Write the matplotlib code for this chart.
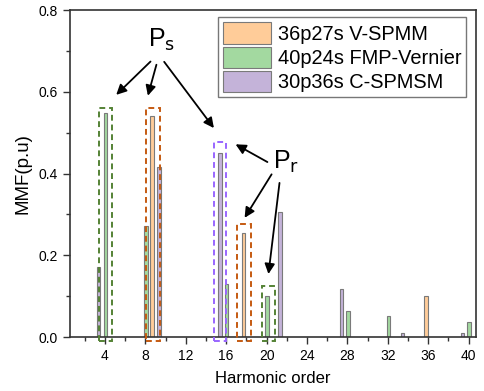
import numpy as np
import matplotlib
matplotlib.use("Agg")
import matplotlib.pyplot as plt
from matplotlib.patches import Rectangle

plt.rcParams['font.family'] = ['Liberation Sans', 'DejaVu Sans']

# harmonic spectra
vspmm_order = [8.67, 17.7, 35.75]
vspmm_mmf = [0.541, 0.255, 0.100]

fmp_order = [4.05, 8.05, 16.05, 20.05, 28.05, 32.05, 40.05]
fmp_mmf = [0.549, 0.272, 0.129, 0.100, 0.064, 0.052, 0.036]

cspm_order = [3.35, 9.35, 15.4, 21.35, 27.4, 33.45, 39.4]
cspm_mmf = [0.171, 0.417, 0.451, 0.306, 0.117, 0.011, 0.009]

labels = ['36p27s V-SPMM', '40p24s FMP-Vernier', '30p36s C-SPMSM']
colors = ['#ffcc99', '#a3d9a0', '#c4b3d9']

# dashed highlight boxes: (x0, x1, top, colour)
boxes = [(3.40, 4.72, 0.561, '#548235'),
         (8.05, 9.44, 0.561, '#c55a11'),
         (14.78, 16.03, 0.478, '#9966ff'),
         (17.12, 18.44, 0.276, '#c55a11'),
         (19.50, 20.80, 0.125, '#548235')]

fig = plt.figure(figsize=(4.85, 3.91), dpi=100)
ax = fig.add_axes([0.144, 0.138, 0.837, 0.836])

w = 0.35
ax.bar(vspmm_order, vspmm_mmf, width=w, color=colors[0], edgecolor='#7a7a7a', linewidth=0.8, label=labels[0])
ax.bar(fmp_order, fmp_mmf, width=w, color=colors[1], edgecolor='#7a7a7a', linewidth=0.8, label=labels[1])
ax.bar(cspm_order, cspm_mmf, width=w, color=colors[2], edgecolor='#7a7a7a', linewidth=0.8, label=labels[2])

for x0, x1, top, c in boxes:
    ax.add_patch(Rectangle((x0, -0.009), x1 - x0, top + 0.009, fill=False,
                           edgecolor=c, linestyle=(0, (3, 2)), linewidth=1.4,
                           clip_on=False, zorder=5))

# P_s arrows
for tgt, src in [((4.92, 0.588), (8.71, 0.679)),
                 ((8.18, 0.584), (9.17, 0.673)),
                 ((14.95, 0.506), (9.70, 0.679))]:
    ax.annotate('', xy=tgt, xytext=src,
                arrowprops=dict(arrowstyle='-|>', color='black', lw=1.3, mutation_scale=15))
ax.text(9.6, 0.728, r'P$_{\mathrm{s}}$', fontsize=18, ha='center', va='center')

# P_r arrows
for tgt, src in [((16.69, 0.475), (20.32, 0.425)),
                 ((17.68, 0.286), (20.64, 0.404)),
                 ((20.15, 0.1475), (21.31, 0.384))]:
    ax.annotate('', xy=tgt, xytext=src,
                arrowprops=dict(arrowstyle='-|>', color='black', lw=1.3, mutation_scale=15))
ax.text(21.9, 0.428, r'P$_{\mathrm{r}}$', fontsize=18, ha='center', va='center')

ax.set_xlim(0.53, 40.7)
ax.set_ylim(0, 0.8)
ax.set_xticks(np.arange(4, 41, 4))
ax.set_xticks(np.arange(2, 41, 2), minor=True)
ax.set_yticks(np.arange(0, 0.81, 0.2))
ax.set_yticks(np.arange(0, 0.81, 0.1), minor=True)
ax.yaxis.set_major_formatter(matplotlib.ticker.FormatStrFormatter('%.1f'))
ax.tick_params(which='major', direction='out', length=5, width=1, labelsize=10, colors='#333333')
ax.tick_params(which='minor', direction='out', length=3, width=1, colors='#333333')
ax.tick_params(labelcolor='black')
for s in ax.spines.values():
    s.set_color('#333333')
    s.set_linewidth(1.2)

ax.set_xlabel('Harmonic order', fontsize=12, labelpad=6)
ax.set_ylabel('MMF(p.u)', fontsize=13.5, labelpad=5)

leg = ax.legend(loc='upper right', bbox_to_anchor=(0.977, 0.978), fontsize=14.4,
                frameon=True, fancybox=False, edgecolor='#555555',
                handlelength=2.4, handleheight=1.25, handletextpad=0.35,
                labelspacing=0.15, borderpad=0.25, borderaxespad=0)
leg.get_frame().set_linewidth(1.0)

fig.savefig('out.png', dpi=100)
